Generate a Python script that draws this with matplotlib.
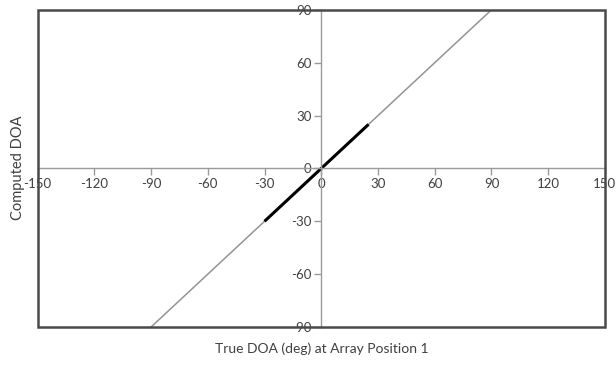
import numpy as np
import matplotlib
matplotlib.use('Agg')
import matplotlib.pyplot as plt
from matplotlib.patches import Rectangle

# data
full_x = [-90, 90]          # computed = true over the whole range
full_y = [-90, 90]
seg_x = [-30, 25]           # heavier segment near the origin
seg_y = [-30, 25]
xticks = [-150, -120, -90, -60, -30, 0, 30, 60, 90, 120, 150]
yticks = [-90, -60, -30, 0, 30, 60, 90]

plt.rcParams['font.family'] = ['Lato', 'DejaVu Sans']
plt.rcParams['axes.unicode_minus'] = False

fig = plt.figure(figsize=(6.16, 3.65), dpi=100)
ax = fig.add_axes([0.061, 0.104, 0.921, 0.869])

ax.plot(full_x, full_y, color='#949494', lw=1.1, solid_capstyle='butt')
ax.plot(seg_x, seg_y, color='black', lw=2.2, solid_capstyle='butt')

ax.set_xlim(-150, 150)
ax.set_ylim(-90, 90)
ax.set_xticks(xticks)
ax.set_yticks(yticks)

# axes crossing at the origin, like the spreadsheet chart
for s in ['left', 'bottom']:
    ax.spines[s].set_position('zero')
    ax.spines[s].set_color('#9a9a9a')
    ax.spines[s].set_linewidth(1.0)
for s in ['top', 'right']:
    ax.spines[s].set_visible(False)

ax.add_patch(Rectangle((0, 0), 1, 1, transform=ax.transAxes, fill=False,
                       edgecolor='#4a4a4a', lw=1.8, clip_on=False, zorder=5))

ax.tick_params(axis='both', direction='out', length=5, width=1.0,
               color='#9a9a9a', labelsize=9.5, labelcolor='#404040', pad=2)

fig.text(0.523, 0.045, 'True DOA (deg) at Array Position 1', ha='center',
         va='center', fontsize=10, color='#404040')
fig.text(0.03, 0.54, 'Computed DOA', ha='center', va='center',
         rotation=90, fontsize=10.5, color='#404040')

fig.savefig('out.png', dpi=100)
